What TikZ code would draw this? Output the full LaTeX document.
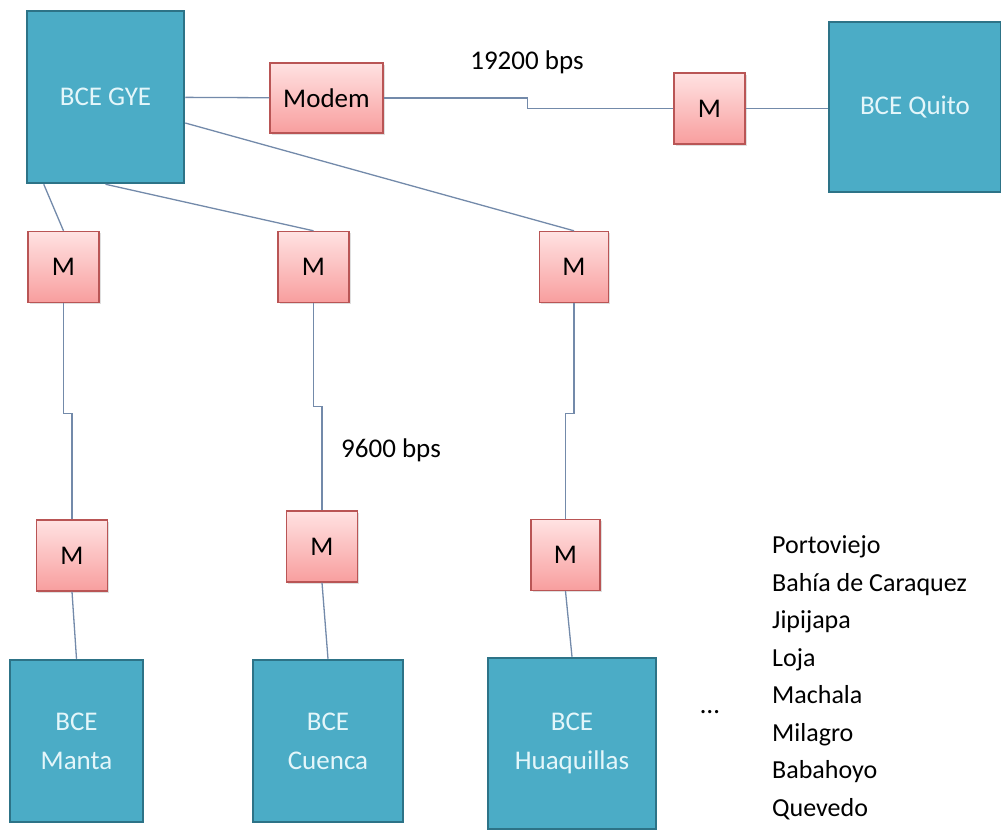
\documentclass[tikz,border=0pt]{standalone}
\usepackage{fontspec}
\setmainfont{Carlito}
\usetikzlibrary{shadows}
\definecolor{sitefill}{RGB}{75,172,198}
\definecolor{siteline}{RGB}{45,115,135}
\definecolor{sitetext}{RGB}{228,246,250}
\definecolor{mtop}{RGB}{255,226,226}
\definecolor{mbot}{RGB}{248,158,158}
\definecolor{mline}{RGB}{185,85,85}
\definecolor{wire}{RGB}{115,138,170}
\begin{document}
\begin{tikzpicture}[x=1pt,y=-1pt,
    site/.style={rectangle, fill=sitefill, draw=siteline, line width=2.5pt,
      text=sitetext, align=center, inner sep=0pt, font=\fontsize{27}{39}\selectfont},
    mbox/.style={rectangle, top color=mtop, bottom color=mbot, draw=mline,
      line width=1.4pt, inner sep=0pt, minimum width=71pt, minimum height=71pt,
      font=\fontsize{27}{32}\selectfont,
      drop shadow={opacity=0.25, shadow xshift=1.5pt, shadow yshift=-1.5pt}},
    wirestyle/.style={draw=wire, line width=1.3pt},
    lbl/.style={font=\fontsize{27}{32}\selectfont, inner sep=0pt}]
  \useasboundingbox (0,0) rectangle (1001,833);
  % sites
  \node[site, minimum width=157pt, minimum height=172pt] (gye) at (105.5,97) {BCE GYE};
  \node[site, minimum width=172pt, minimum height=170pt] (quito) at (915,107) {BCE Quito};
  \node[site, minimum width=133pt, minimum height=162pt] (manta) at (76.5,741) {BCE\\Manta};
  \node[site, minimum width=150pt, minimum height=162pt] (cuenca) at (328,741) {BCE\\Cuenca};
  \node[site, minimum width=168pt, minimum height=171pt] (huaq) at (572,743.5) {BCE\\Huaquillas};
  % modems
  \node[mbox, minimum width=113pt, minimum height=70pt] (modem) at (326.5,98) {Modem};
  \node[mbox] (mq) at (709.5,108.5) {M};
  \node[mbox] (ma1) at (63.5,267) {M};
  \node[mbox] (mc1) at (313.5,267) {M};
  \node[mbox, minimum width=69pt] (mh1) at (574,267) {M};
  \node[mbox] (ma2) at (72,555.5) {M};
  \node[mbox] (mc2) at (322,546.5) {M};
  \node[mbox, minimum width=69pt] (mh2) at (565.5,555) {M};
  % lines
  \draw[wirestyle] (gye) -- (modem);
  \draw[wirestyle] (modem.east) -- ++(144,0) |- (mq.west);
  \draw[wirestyle] (mq.east) -- (mq.east -| quito.west);
  \draw[wirestyle] ([xshift=18pt]gye.south west) -- (ma1.north);
  \draw[wirestyle] (gye.south) -- (mc1.north);
  \draw[wirestyle] ([yshift=-26pt]gye.east) -- (mh1.north);
  \draw[wirestyle] (ma1.south) -- ++(0,110) -| (ma2.north);
  \draw[wirestyle] (mc1.south) -- ++(0,103) -| (mc2.north);
  \draw[wirestyle] (mh1.south) -- ++(0,110) -| (mh2.north);
  \draw[wirestyle] (ma2.south) -- (manta.north);
  \draw[wirestyle] (mc2.south) -- (cuenca.north);
  \draw[wirestyle] (mh2.south) -- (huaq.north);
  % labels
  \node[lbl] (fast) at (527,62) {19200 bps};
  \node[lbl] (slow) at (391,450) {9600 bps};
  \node[lbl] (dots) at (710,712) {…};
  \node[lbl, anchor=west, align=left, font=\fontsize{26}{37.5}\selectfont] (others) at (772,678)
    {Portoviejo\\Bahía de Caraquez\\Jipijapa\\Loja\\Machala\\Milagro\\Babahoyo\\Quevedo};
\end{tikzpicture}
\end{document}
